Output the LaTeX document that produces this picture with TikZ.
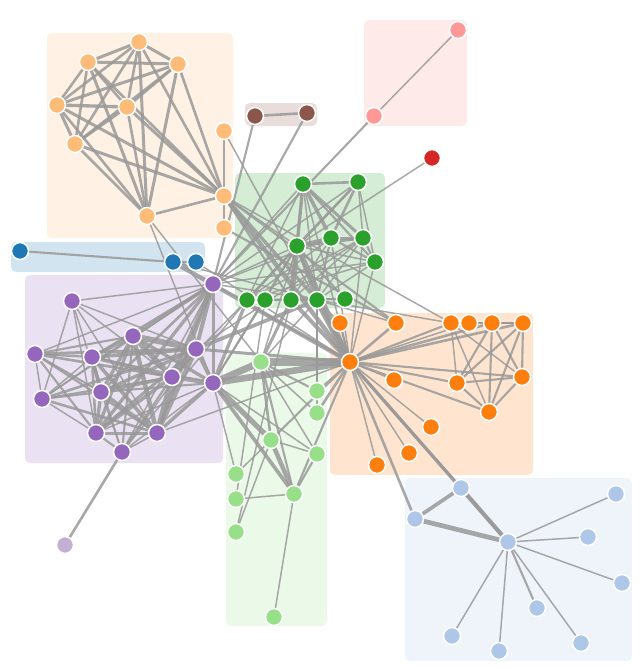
\documentclass[tikz,border=0pt]{standalone}
\usetikzlibrary{backgrounds}
\definecolor{c0}{HTML}{1F77B4}
\definecolor{c1}{HTML}{AEC7E8}
\definecolor{c2}{HTML}{FF7F0E}
\definecolor{c3}{HTML}{FFBB78}
\definecolor{c4}{HTML}{2CA02C}
\definecolor{c5}{HTML}{98DF8A}
\definecolor{c6}{HTML}{D62728}
\definecolor{c7}{HTML}{FF9896}
\definecolor{c8}{HTML}{9467BD}
\definecolor{c9}{HTML}{C5B0D5}
\definecolor{c10}{HTML}{8C564B}
\definecolor{edgegray}{HTML}{999999}
\pgfdeclarelayer{groups}
\pgfdeclarelayer{links}
\pgfsetlayers{groups,links,main}
\begin{document}
\begin{tikzpicture}[x=1pt,y=-1pt,
  vtx/.style={circle,draw=white,line width=1.5pt,inner sep=0pt,minimum size=17pt},
  link/.style={draw=edgegray,draw opacity=0.85},
  grp/.style={rounded corners=5pt,fill opacity=0.2}]
\useasboundingbox (0,0) rectangle (644,669);
% nodes: index/x/y/group
\foreach \i/\x/\y/\g in {
0/508/542/1, 1/616/494/1, 2/461/488/1, 3/415/519/1, 4/588/537/1, 5/622/583/1,
6/452/636/1, 7/499/651/1, 8/537/608/1, 9/581/643/1,
10/394/380/2, 11/350/362/2, 12/224/131/3, 13/431/427/2, 14/409/453/2, 15/377/465/2,
16/147/216/3, 17/139/42/3, 18/88/62/3, 19/178/64/3, 20/57/105/3, 21/127/107/3,
22/75/144/3, 23/224/196/3, 24/291/300/4, 25/297/246/4, 26/261/362/5, 27/317/300/4,
28/173/262/0, 29/451/323/2, 30/224/228/3, 31/396/323/2, 32/469/323/2, 33/340/323/2,
34/492/323/2, 35/523/323/2, 36/457/383/2, 37/522/377/2, 38/489/412/2, 39/265/300/4,
40/432/158/6, 41/247/300/4, 42/345/299/4, 43/317/413/5, 44/196/262/0, 45/20/251/0,
46/458/30/7, 47/374/116/7, 48/213/284/8, 49/271/440/5, 50/236/532/5, 51/294/494/5,
52/236/499/5, 53/274/617/5, 54/317/454/5, 55/213/383/8, 56/236/474/5, 57/122/452/8,
58/196/349/8, 59/133/336/8, 60/35/354/8, 61/92/357/8, 62/172/377/8, 63/96/433/8,
64/157/433/8, 65/101/392/8, 66/42/399/8, 67/65/545/9, 68/303/184/4, 69/331/238/4,
70/363/238/4, 71/375/262/4, 72/317/391/5, 73/255/116/10, 74/307/113/10, 75/358/182/4,
76/72/301/8}
  {\node[vtx,fill=c\g] (n\i) at (\x,\y) {};}
% group boxes
\begin{pgfonlayer}{groups}
\fill[grp,c3] (47,33) rectangle (233,238);
\fill[grp,c10] (245,103) rectangle (317,126);
\fill[grp,c7] (364,20) rectangle (467,126);
\fill[grp,c0] (11,242) rectangle (205,272);
\fill[grp,c8] (25,275) rectangle (223,463);
\fill[grp,c4] (235,173) rectangle (385,308);
\fill[grp,c5] (226,353) rectangle (327,626);
\fill[grp,c2] (330,313) rectangle (533,475);
\fill[grp,c1] (405,478) rectangle (632,661);
\end{pgfonlayer}
% links: source/target/value
\begin{pgfonlayer}{links}
\foreach \s/\t/\v in {
1/0/1,2/0/8,3/0/10,3/2/6,4/0/1,5/0/1,6/0/1,7/0/1,8/0/2,9/0/1,
11/10/1,11/3/3,11/2/3,11/0/5,12/11/1,13/11/1,14/11/1,15/11/1,
17/16/4,18/16/4,18/17/4,19/16/4,19/17/4,19/18/4,20/16/3,20/17/3,20/18/3,20/19/4,
21/16/3,21/17/3,21/18/3,21/19/3,21/20/5,22/16/3,22/17/3,22/18/3,22/19/3,22/20/4,22/21/4,
23/16/3,23/17/3,23/18/3,23/19/3,23/20/4,23/21/4,23/22/4,23/12/2,23/11/9,
24/23/2,24/11/7,25/24/13,25/23/1,25/11/12,26/24/4,26/11/31,26/16/1,26/25/1,
27/11/17,27/23/5,27/25/5,27/24/1,27/26/1,28/11/8,28/27/1,29/23/1,29/27/1,29/11/2,
30/23/1,31/30/2,31/11/3,31/23/2,31/27/1,32/11/1,33/11/2,33/27/1,34/11/3,34/29/2,
35/11/3,35/34/3,35/29/2,36/34/2,36/35/2,36/11/2,36/29/1,37/34/2,37/35/2,37/36/2,
37/11/2,37/29/1,38/34/2,38/35/2,38/36/2,38/37/2,38/11/2,38/29/1,39/25/1,40/25/1,
41/24/2,41/25/3,42/41/2,42/25/2,42/24/1,43/11/3,43/26/1,43/27/1,44/28/3,44/11/1,
45/28/2,47/46/1,48/47/2,48/25/1,48/27/1,48/11/1,49/26/3,49/11/2,50/49/1,50/24/1,
51/49/9,51/26/2,51/11/2,52/51/1,52/39/1,53/51/1,54/51/2,54/49/1,54/26/1,
55/51/6,55/49/12,55/39/1,55/54/1,55/26/21,55/11/19,55/16/1,55/25/2,55/41/5,55/48/4,
56/49/1,56/55/1,57/55/1,57/41/1,57/48/1,58/55/7,58/48/7,58/27/6,58/57/1,58/11/4,
59/58/15,59/55/5,59/48/6,59/57/2,60/48/1,60/58/4,60/59/2,61/48/2,61/58/6,61/60/2,
61/59/5,61/57/1,61/55/1,62/55/9,62/58/17,62/59/13,62/48/7,62/57/2,62/41/1,62/61/6,
62/60/3,63/59/5,63/48/5,63/62/6,63/57/2,63/58/4,63/61/3,63/60/2,63/55/1,
64/55/5,64/62/12,64/48/5,64/63/4,64/58/10,64/61/6,64/60/2,64/59/9,64/57/1,64/11/1,
65/63/5,65/64/7,65/48/3,65/62/5,65/58/5,65/61/5,65/60/2,65/59/5,65/57/1,65/55/2,
66/64/3,66/58/3,66/59/1,66/62/2,66/65/2,66/48/1,66/63/1,66/61/1,66/60/1,67/57/3,
68/25/5,68/11/1,68/24/1,68/27/1,68/48/1,68/41/1,69/25/6,69/68/6,69/11/1,69/24/1,
69/27/2,69/48/1,69/41/1,70/25/4,70/69/4,70/68/4,70/11/1,70/24/1,70/27/1,70/41/1,
70/58/1,71/27/1,71/69/2,71/68/2,71/70/2,71/11/1,71/48/1,71/41/1,71/25/1,72/26/2,
72/27/1,72/11/1,73/48/2,74/48/2,74/73/3,75/69/3,75/68/3,75/25/3,75/48/1,75/41/1,
75/70/1,75/71/1,76/64/1,76/65/1,76/66/1,76/63/1,76/62/1,76/48/1,76/58/1}
  {\pgfmathsetmacro\w{1.5*sqrt(\v)}
   \draw[link,line width=\w pt] (n\s.center) -- (n\t.center);}
\end{pgfonlayer}
\end{tikzpicture}
\end{document}
